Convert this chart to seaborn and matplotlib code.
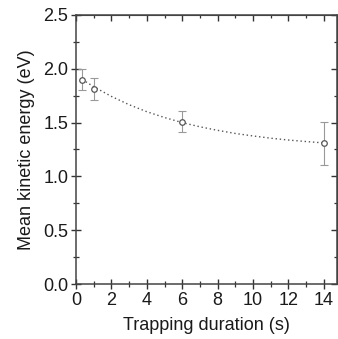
import numpy as np
import pandas as pd
import seaborn as sns
import matplotlib.pyplot as plt
from matplotlib.ticker import MultipleLocator

# measured points
duration = [0.35, 1.0, 6.0, 14.0]
energy = [1.90, 1.81, 1.51, 1.31]
energy_err = [0.10, 0.10, 0.10, 0.20]

# dotted fit curve
fit_t = [0.35, 1, 2, 3, 4, 5, 6, 7, 8, 9, 10, 11, 12, 13, 14]
fit_e = [1.90, 1.833, 1.743, 1.666, 1.601, 1.547, 1.50, 1.461, 1.428,
         1.399, 1.376, 1.355, 1.338, 1.324, 1.311]

pts = pd.DataFrame({"t": duration, "E": energy})
fit = pd.DataFrame({"t": fit_t, "E": fit_e})

sns.set_style("ticks")
plt.rcParams["font.family"] = ["Liberation Sans", "DejaVu Sans"]

fig = plt.figure(figsize=(3.38, 3.39), dpi=100)
ax = fig.add_axes([0.225, 0.162, 0.772, 0.794])

sns.lineplot(data=fit, x="t", y="E", ax=ax, color="#555555",
             linestyle=(0, (1, 2)), linewidth=1.0, sort=False)
ax.errorbar(duration, energy, yerr=energy_err, fmt="none", ecolor="#999999",
            elinewidth=0.8, capsize=3, capthick=0.8)
sns.scatterplot(data=pts, x="t", y="E", ax=ax, marker="o", s=16,
                facecolor="white", edgecolor="#555555", linewidth=0.9, zorder=5)

ax.set_xlim(0, 14.75)
ax.set_ylim(0, 2.5)
ax.xaxis.set_major_locator(MultipleLocator(2))
ax.xaxis.set_minor_locator(MultipleLocator(1))
ax.yaxis.set_major_locator(MultipleLocator(0.5))
ax.yaxis.set_minor_locator(MultipleLocator(0.25))
ax.yaxis.set_major_formatter(plt.FormatStrFormatter("%.1f"))

ax.tick_params(which="major", direction="inout", length=7, width=1.0,
               color="#333333", labelsize=13, labelcolor="#1a1a1a", pad=2)
ax.tick_params(which="minor", direction="inout", length=4, width=0.9,
               color="#333333")

for side in ["top", "right"]:
    sec = ax.secondary_xaxis("top") if side == "top" else ax.secondary_yaxis("right")
    axis = sec.xaxis if side == "top" else sec.yaxis
    if side == "top":
        axis.set_major_locator(MultipleLocator(2))
        axis.set_minor_locator(MultipleLocator(1))
    else:
        axis.set_major_locator(MultipleLocator(0.5))
        axis.set_minor_locator(MultipleLocator(0.25))
    sec.tick_params(which="major", direction="in", length=4, width=1.0, color="#333333",
                    labelleft=False, labelright=False, labeltop=False, labelbottom=False)
    sec.tick_params(which="minor", direction="in", length=2.5, width=0.9, color="#333333")
    for sp in sec.spines.values():
        sp.set_color("#444444")

for sp in ax.spines.values():
    sp.set_color("#444444")
    sp.set_linewidth(1.1)
    sp.set_visible(True)

ax.set_xlabel("Trapping duration (s)", fontsize=13, color="#1a1a1a", labelpad=6)
ax.set_ylabel("Mean kinetic energy (eV)", fontsize=13, color="#1a1a1a", labelpad=6)

fig.savefig("out.png", dpi=100)
